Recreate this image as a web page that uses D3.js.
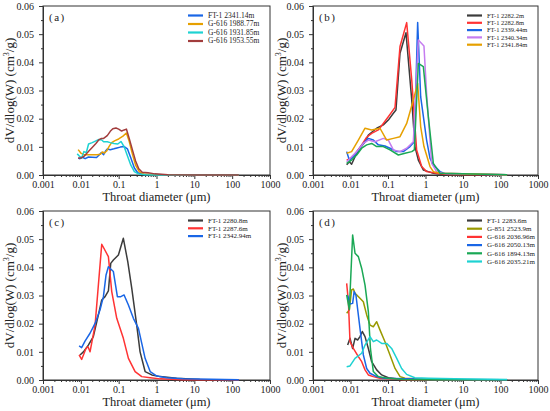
<!DOCTYPE html>
<html>
<head>
<meta charset="utf-8">
<script src="https://cdn.jsdelivr.net/npm/d3@7"></script>
<style>
body{margin:0;background:#fff}
text{font-family:"Liberation Serif","Times New Roman",serif;fill:#222}
</style>
</head>
<body>
<div id="chart"></div>
<script>
// tick values / labels
var xTicks = [0.001, 0.01, 0.1, 1, 10, 100, 1000];
var xTickLabels = ['0.001', '0.01', '0.1', '1', '10', '100', '1000'];
var yTicks = [0, 0.01, 0.02, 0.03, 0.04, 0.05, 0.06];

// (a)
var namesA = ['FT-1 2341.14m', 'G-616 1988.77m', 'G-616 1931.85m', 'G-616 1953.55m'];
var seriesA = [
  [[0.0085,0.0060],[0.0095,0.0058],[0.011,0.0063],[0.013,0.0058],[0.016,0.0064],[0.02,0.0063],[0.026,0.0062],[0.03,0.0070],[0.035,0.0080],[0.04,0.0072],[0.045,0.0085],[0.05,0.0092],[0.06,0.0090],[0.075,0.0093],[0.09,0.0096],[0.11,0.0099],[0.14,0.0101],[0.17,0.0093],[0.21,0.0060],[0.26,0.0025],[0.32,0.0008],[0.45,0.0003],[0.7,0.0002],[1.5,0.0001],[5,0],[150,0]],
  [[0.0085,0.0090],[0.01,0.0078],[0.012,0.0072],[0.015,0.0072],[0.02,0.0072],[0.027,0.0072],[0.033,0.0074],[0.037,0.0082],[0.042,0.0078],[0.048,0.0085],[0.055,0.0100],[0.065,0.0115],[0.08,0.0122],[0.1,0.0128],[0.13,0.0138],[0.16,0.0149],[0.19,0.0120],[0.23,0.0075],[0.28,0.0035],[0.35,0.0012],[0.45,0.0004],[0.7,0.0002],[2,0.0001],[10,0],[150,0]],
  [[0.008,0.0075],[0.009,0.0068],[0.0105,0.0060],[0.012,0.0083],[0.014,0.0080],[0.016,0.0110],[0.02,0.0115],[0.025,0.0121],[0.03,0.0126],[0.035,0.0125],[0.04,0.0118],[0.05,0.0118],[0.06,0.0115],[0.075,0.0112],[0.095,0.0110],[0.115,0.0119],[0.14,0.0100],[0.17,0.0068],[0.21,0.0035],[0.26,0.0012],[0.33,0.0004],[0.5,0.0001],[2,0],[150,0]],
  [[0.0085,0.0060],[0.01,0.0060],[0.012,0.0066],[0.014,0.0075],[0.017,0.0088],[0.02,0.0098],[0.025,0.0112],[0.03,0.0125],[0.035,0.0130],[0.04,0.0130],[0.05,0.0140],[0.06,0.0155],[0.07,0.0164],[0.085,0.0167],[0.1,0.0163],[0.12,0.0156],[0.14,0.0160],[0.16,0.0163],[0.19,0.0130],[0.23,0.0090],[0.28,0.0050],[0.34,0.0022],[0.42,0.0010],[0.6,0.0008],[0.9,0.0004],[2,0.0001],[10,0],[150,0]]
];
var colorsA = ['#1a66e6', '#e6a000', '#1ed2d2', '#a23d3d'];

// (b) - the green curve has no legend entry in the source figure
var namesB = ['FT-1 2282.2m', 'FT-1 2282.8m', 'FT-1 2339.44m', 'FT-1 2340.34m', 'FT-1 2341.84m', null];
var seriesB = [
  [[0.0079,0.0036],[0.0093,0.0047],[0.0107,0.0038],[0.0132,0.0065],[0.0179,0.0095],[0.0244,0.0118],[0.0299,0.0142],[0.0499,0.0166],[0.075,0.0178],[0.102,0.0195],[0.139,0.0219],[0.163,0.0231],[0.209,0.0432],[0.302,0.0505],[0.43,0.0266],[0.525,0.0100],[0.644,0.0053],[0.875,0.0018],[1.19,0.0012],[1.62,0.0006],[3,0.0002],[150,0.0001]],
  [[0.0079,0.0053],[0.0097,0.0059],[0.0119,0.0065],[0.0146,0.0083],[0.0199,0.0107],[0.027,0.0134],[0.0367,0.0148],[0.0552,0.0160],[0.075,0.0183],[0.102,0.0207],[0.154,0.0240],[0.209,0.0456],[0.315,0.0541],[0.43,0.0337],[0.58,0.0089],[0.79,0.0030],[1.07,0.0012],[1.98,0.0006],[4,0.0002],[150,0.0001]],
  [[0.0079,0.0083],[0.0093,0.0053],[0.0119,0.0065],[0.0162,0.0089],[0.022,0.0112],[0.0299,0.0130],[0.0406,0.0124],[0.0552,0.0107],[0.083,0.0103],[0.113,0.0095],[0.17,0.0083],[0.256,0.0083],[0.386,0.0101],[0.504,0.0118],[0.618,0.0541],[0.743,0.0278],[1.07,0.0124],[1.32,0.0059],[1.62,0.0036],[2.44,0.0012],[3.5,0.0004],[150,0.0001]],
  [[0.0079,0.0047],[0.0107,0.0065],[0.0146,0.0083],[0.022,0.0112],[0.0299,0.0124],[0.045,0.0118],[0.075,0.0130],[0.102,0.0124],[0.139,0.0089],[0.209,0.0083],[0.315,0.0095],[0.474,0.0118],[0.644,0.0479],[0.91,0.0458],[1.07,0.0290],[1.46,0.0041],[1.98,0.0012],[2.7,0.0006],[150,0.0001]],
  [[0.0079,0.0077],[0.0107,0.0083],[0.0162,0.0124],[0.0244,0.0166],[0.0367,0.0160],[0.0612,0.0166],[0.092,0.0124],[0.139,0.0130],[0.209,0.0136],[0.315,0.0183],[0.474,0.0266],[0.618,0.0325],[0.743,0.0172],[0.91,0.0101],[1.32,0.0030],[1.62,0.0012],[2.44,0.0006],[150,0.0001]],
  [[0.0079,0.0041],[0.0107,0.0053],[0.0146,0.0071],[0.0199,0.0095],[0.027,0.0107],[0.0367,0.0112],[0.0499,0.0101],[0.075,0.0101],[0.113,0.0089],[0.189,0.0071],[0.284,0.0077],[0.43,0.0083],[0.504,0.0089],[0.644,0.0396],[0.875,0.0385],[1.19,0.0207],[1.62,0.0041],[2.44,0.0006],[150,0.0001]]
];
var colorsB = ['#3c3c3c', '#ff3333', '#1a66e6', '#c57cf0', '#e6a000', '#1aa855'];

// (c)
var namesC = ['FT-1 2280.8m', 'FT-1 2287.6m', 'FT-1 2342.94m'];
var seriesC = [
  [[0.0095,0.0089],[0.0117,0.0100],[0.0158,0.0124],[0.0214,0.0154],[0.0291,0.0231],[0.0357,0.0284],[0.0437,0.0296],[0.0535,0.0316],[0.0617,0.0414],[0.0725,0.0426],[0.0984,0.0444],[0.133,0.0503],[0.174,0.0420],[0.222,0.0325],[0.30,0.0195],[0.368,0.0100],[0.50,0.0030],[0.75,0.0018],[1.25,0.0012],[3.4,0.0006],[14,0.0002],[150,0.0001]],
  [[0.0090,0.0089],[0.0105,0.0073],[0.0137,0.0112],[0.0155,0.0118],[0.0175,0.0100],[0.0238,0.0195],[0.0357,0.0482],[0.0535,0.0438],[0.0656,0.0314],[0.089,0.0219],[0.133,0.0148],[0.181,0.0077],[0.272,0.0030],[0.408,0.0012],[0.68,0.0008],[1.25,0.0004],[5,0.0001],[150,0.0001]],
  [[0.0090,0.0121],[0.0105,0.0115],[0.0129,0.0138],[0.0175,0.0166],[0.0238,0.0201],[0.0322,0.0249],[0.0395,0.0296],[0.0464,0.0373],[0.0535,0.0402],[0.0725,0.0385],[0.0925,0.0296],[0.114,0.0296],[0.139,0.0302],[0.181,0.0266],[0.245,0.0219],[0.333,0.0183],[0.408,0.0130],[0.50,0.0077],[0.68,0.0030],[1.02,0.0014],[1.87,0.0008],[5.1,0.0004],[150,0.0001]]
];
var colorsC = ['#3c3c3c', '#ff3333', '#1a66e6'];

// (d)
var namesD = ['FT-1 2283.6m', 'G-851 2523.9m', 'G-616 2036.96m', 'G-616 2050.13m', 'G-616 1894.13m', 'G-616 2035.21m'];
var seriesD = [
  [[0.0084,0.0124],[0.0097,0.0148],[0.0114,0.0112],[0.0132,0.0148],[0.0155,0.0142],[0.0179,0.0154],[0.0207,0.0172],[0.0244,0.0154],[0.0299,0.0112],[0.0367,0.0065],[0.0499,0.0036],[0.0678,0.0018],[0.102,0.0008],[0.19,0.0004],[1,0.0001],[150,0.0001]],
  [[0.0079,0.0237],[0.0093,0.0249],[0.0107,0.0320],[0.0119,0.0323],[0.0132,0.0308],[0.0179,0.0290],[0.022,0.0278],[0.027,0.0231],[0.0331,0.0195],[0.0406,0.0189],[0.0499,0.0207],[0.061,0.0178],[0.083,0.0136],[0.113,0.0089],[0.154,0.0041],[0.21,0.0012],[0.284,0.0006],[0.52,0.0004],[2.2,0.0001],[150,0.0001]],
  [[0.0079,0.0343],[0.0088,0.0278],[0.0097,0.0136],[0.0119,0.0112],[0.0162,0.0083],[0.0199,0.0065],[0.0244,0.0036],[0.0299,0.0018],[0.0406,0.0012],[0.061,0.0006],[0.1,0.0004],[0.28,0.0001],[150,0.0001]],
  [[0.0084,0.0300],[0.0097,0.0270],[0.0114,0.0272],[0.0125,0.0314],[0.0140,0.0300],[0.0179,0.0183],[0.022,0.0089],[0.027,0.0041],[0.0331,0.0024],[0.0499,0.0012],[0.08,0.0006],[0.28,0.0004],[1.5,0.0002],[150,0.0001]],
  [[0.0079,0.0302],[0.0093,0.0250],[0.0114,0.0515],[0.0132,0.0450],[0.0162,0.0438],[0.0199,0.0396],[0.0244,0.0337],[0.0299,0.0243],[0.034,0.0112],[0.0406,0.0030],[0.055,0.0012],[0.1,0.0006],[0.28,0.0002],[2.2,0.0001],[150,0.0001]],
  [[0.0079,0.0047],[0.0097,0.0050],[0.0132,0.0077],[0.0199,0.0095],[0.0244,0.0124],[0.0331,0.0154],[0.0406,0.0136],[0.0499,0.0142],[0.0678,0.0130],[0.092,0.0130],[0.125,0.0112],[0.171,0.0077],[0.231,0.0041],[0.314,0.0020],[0.52,0.0008],[1.2,0.0006],[6,0.0004],[150,0.0002]]
];
var colorsD = ['#3c3c3c', '#999900', '#ff3333', '#1a66e6', '#1aa855', '#1ed2d2'];

var svg = d3.select('#chart').append('svg')
  .attr('width', 550)
  .attr('height', 411);

function drawPanel(p) {
  var w = p.x1 - p.x0, h = p.y1 - p.y0;
  var g = svg.append('g').attr('transform', 'translate(' + p.x0 + ',' + p.y0 + ')');

  var x = d3.scaleLog().domain([0.001, 1000]).range([0, w]);
  var y = d3.scaleLinear().domain([0, 0.06]).range([h, 0]);

  // minor ticks
  var xMinor = [];
  for (var e = -3; e < 3; e++) {
    for (var k = 2; k < 10; k++) xMinor.push(k * Math.pow(10, e));
  }
  var yMinor = [0.005, 0.015, 0.025, 0.035, 0.045, 0.055];

  g.append('g')
    .attr('transform', 'translate(0,' + h + ')')
    .call(d3.axisBottom(x).tickValues(xMinor).tickSize(2).tickFormat('').tickSizeOuter(0));
  g.append('g')
    .call(d3.axisLeft(y).tickValues(yMinor).tickSize(2).tickFormat('').tickSizeOuter(0));

  var xa = g.append('g')
    .attr('transform', 'translate(0,' + h + ')')
    .call(d3.axisBottom(x).tickValues(xTicks).tickSize(4).tickSizeOuter(0)
      .tickFormat(function(d, i){ return xTickLabels[i]; }));
  xa.selectAll('text').attr('font-size', '10px').attr('dy', '0.6em');

  var ya = g.append('g')
    .call(d3.axisLeft(y).tickValues(yTicks).tickSize(4).tickSizeOuter(0)
      .tickFormat(d3.format('.2f')));
  ya.selectAll('text').attr('font-size', '10px').attr('x', -9);

  g.selectAll('.domain').attr('stroke', '#333');
  g.selectAll('.tick line').attr('stroke', '#333');

  // frame
  g.append('rect')
    .attr('width', w).attr('height', h)
    .attr('fill', 'none').attr('stroke', '#333').attr('stroke-width', 1);

  var line = d3.line()
    .x(function(d){ return x(d[0]); })
    .y(function(d){ return y(d[1]); });

  g.selectAll('path.curve').data(p.series).enter()
    .append('path')
    .attr('class', 'curve')
    .attr('d', line)
    .attr('fill', 'none')
    .attr('stroke', function(d, i){ return p.colors[i]; })
    .attr('stroke-width', 1.5)
    .attr('stroke-linejoin', 'round');

  // panel letter
  g.append('text')
    .attr('x', 6).attr('y', 15)
    .attr('font-size', '11px')
    .attr('letter-spacing', '1.5px')
    .text('(' + p.letter + ')');

  // legend
  var leg = g.selectAll('g.leg').data(p.names.filter(function(n){ return n; })).enter()
    .append('g').attr('class', 'leg')
    .attr('transform', function(d, i){ return 'translate(' + p.legX + ',' + (9.5 + i * p.legStep) + ')'; });
  leg.append('line')
    .attr('x1', 0).attr('x2', 15)
    .attr('stroke', function(d, i){ return p.colors[i]; })
    .attr('stroke-width', 2.2);
  leg.append('text')
    .attr('x', 20).attr('dy', '0.33em')
    .attr('font-size', p.legFont + 'px')
    .attr('fill', '#444')
    .text(function(d){ return d; });

  // axis titles
  g.append('text')
    .attr('x', w / 2).attr('y', h + 26)
    .attr('text-anchor', 'middle')
    .attr('font-size', '12.5px')
    .text('Throat diameter (\u03bcm)');

  var yt = g.append('text')
    .attr('transform', 'translate(' + p.yTitleX + ',' + (h / 2) + ') rotate(-90)')
    .attr('text-anchor', 'middle')
    .attr('font-size', '13px');
  yt.append('tspan').text('dV/dlog(W) (cm');
  yt.append('tspan').attr('font-size', '8px').attr('dy', '-5').text('3');
  yt.append('tspan').attr('dy', '5').text('/g)');
}

drawPanel({x0: 43, x1: 270, y0: 6, y1: 175, letter: 'a', names: namesA, series: seriesA, colors: colorsA, legX: 145, legStep: 8.5, legFont: 7.5, yTitleX: -29});
drawPanel({x0: 313, x1: 538, y0: 6, y1: 175, letter: 'b', names: namesB, series: seriesB, colors: colorsB, legX: 154, legStep: 7.3, legFont: 6.5, yTitleX: -27});
drawPanel({x0: 43, x1: 270, y0: 211, y1: 380, letter: 'c', names: namesC, series: seriesC, colors: colorsC, legX: 145, legStep: 7.8, legFont: 7, yTitleX: -29});
drawPanel({x0: 313, x1: 538, y0: 211, y1: 380, letter: 'd', names: namesD, series: seriesD, colors: colorsD, legX: 154, legStep: 8.2, legFont: 7, yTitleX: -27});
</script>
</body>
</html>
